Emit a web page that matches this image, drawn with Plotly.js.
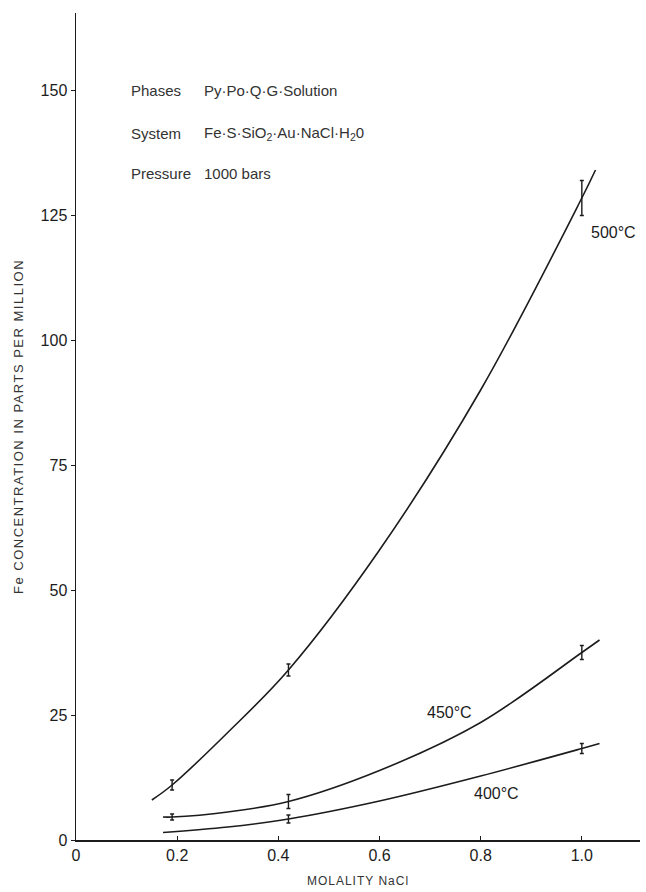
<!DOCTYPE html>
<html>
<head>
<meta charset="utf-8">
<script src="https://cdn.plot.ly/plotly-3.0.1.min.js"></script>
<style>
html,body{margin:0;padding:0;background:#fff;}
#chart{width:646px;height:892px;}
#chart .ytitle{letter-spacing:1.5px;}
#chart .xtitle{letter-spacing:1px;}
</style>
</head>
<body>
<div id="chart"></div>
<script>
// Curve traces (molality NaCl vs Fe ppm)
const molality500 = [0.15, 0.19, 0.3, 0.42, 0.6, 0.8, 1.0, 1.027];
const fe500 = [8, 11, 21.5, 34, 58, 90, 128.4, 134];
const molality450 = [0.172, 0.19, 0.3, 0.42, 0.6, 0.8, 1.0, 1.035];
const fe450 = [4.6, 4.6, 5.6, 7.7, 13.9, 23.5, 37.5, 40];
const molality400 = [0.172, 0.3, 0.42, 0.6, 0.8, 1.0, 1.035];
const fe400 = [1.5, 2.6, 4.2, 7.8, 12.8, 18.3, 19.3];

// Measured points with uncertainty bars
const measX500 = [0.19, 0.42, 1.0];
const measY500 = [11, 34, 128.4];
const measErr500 = [1.0, 1.2, 3.5];
const measX450 = [0.19, 0.42, 1.0];
const measY450 = [4.6, 7.7, 37.5];
const measErr450 = [0.6, 1.4, 1.4];
const measX400 = [0.42, 1.0];
const measY400 = [4.2, 18.3];
const measErr400 = [0.8, 1.0];

// Labels
const curveLabels = ["500°C", "450°C", "400°C"];
const labelX = [1.063, 0.739, 0.832];
const labelY = [121.5, 25.5, 9.3];

const xTickVals = [0, 0.2, 0.4, 0.6, 0.8, 1.0];
const xTickText = ["0", "0.2", "0.4", "0.6", "0.8", "1.0"];
const yTickVals = [0, 25, 50, 75, 100, 125, 150];
const yTickText = ["0", "25", "50", "75", "100", "125", "150"];

const infoKeys = ["Phases", "System", "Pressure"];
const infoVals = ["Py·Po·Q·G·Solution", "Fe·S·SiO<sub>2</sub>·Au·NaCl·H<sub>2</sub>0", "1000 bars"];
const infoY = [150, 141.3, 133.3];

const ink = "#1c1c1c";
const fam = "Liberation Sans, Arial, sans-serif";
const lineStyle = {color: ink, width: 1.6, shape: "spline", smoothing: 1};

function curve(x, y) {
  return {x: x, y: y, mode: "lines", line: lineStyle, hoverinfo: "skip", showlegend: false};
}
function meas(x, y, e) {
  return {x: x, y: y, mode: "markers", marker: {size: 1, color: ink},
    error_y: {type: "data", array: e, visible: true, color: ink, thickness: 1.4, width: 2},
    showlegend: false, hoverinfo: "skip"};
}

const data = [
  curve(molality500, fe500), curve(molality450, fe450), curve(molality400, fe400),
  meas(measX500, measY500, measErr500), meas(measX450, measY450, measErr450), meas(measX400, measY400, measErr400)
];

const annotations = [];
curveLabels.forEach((t, i) => annotations.push({x: labelX[i], y: labelY[i], text: t, showarrow: false,
  font: {family: fam, size: 16, color: ink}}));
infoKeys.forEach((k, i) => {
  annotations.push({x: 0.104, y: infoY[i], text: k, showarrow: false, xanchor: "left",
    font: {family: fam, size: 15, color: "#333"}});
  annotations.push({x: 0.250, y: infoY[i], text: infoVals[i], showarrow: false, xanchor: "left",
    font: {family: fam, size: 15, color: "#333"}});
});

const layout = {
  width: 646, height: 892,
  margin: {l: 76, r: 6, t: 13, b: 52},
  paper_bgcolor: "#fff", plot_bgcolor: "#fff",
  showlegend: false,
  font: {family: fam, color: ink},
  xaxis: {
    range: [0, 1.115], showgrid: false, zeroline: false,
    showline: true, linecolor: ink, linewidth: 1.5,
    ticks: "inside", ticklen: 4, tickcolor: ink, tickwidth: 1,
    tickvals: xTickVals, ticktext: xTickText,
    tickfont: {size: 16, color: ink, family: fam},
    title: {text: "MOLALITY NaCl", font: {size: 12, color: "#333"}, standoff: 14}
  },
  yaxis: {
    range: [0, 165.4], showgrid: false, zeroline: false,
    showline: true, linecolor: ink, linewidth: 1.5,
    ticks: "outside", ticklen: 4, tickcolor: ink, tickwidth: 1,
    tickvals: yTickVals, ticktext: yTickText,
    tickfont: {size: 16, color: ink, family: fam},
    title: {text: "Fe CONCENTRATION IN PARTS PER MILLION", font: {size: 13, color: "#333"}, standoff: 14}
  },
  annotations: annotations
};

Plotly.newPlot("chart", data, layout, {displayModeBar: false, staticPlot: true});
</script>
</body>
</html>
